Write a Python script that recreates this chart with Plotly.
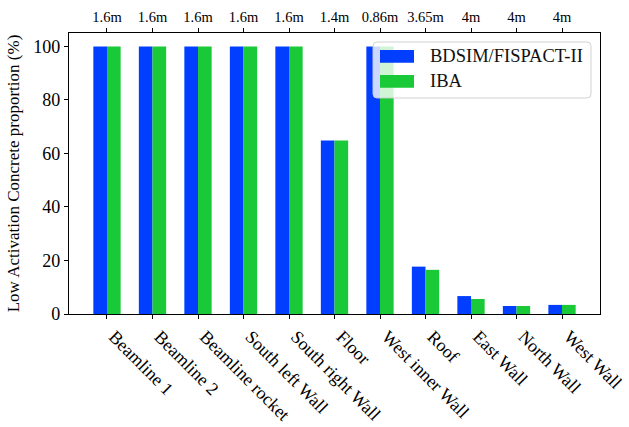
import plotly.graph_objects as go

# Wall / component names along the bottom axis
categories = [
    "Beamline 1", "Beamline 2", "Beamline rocket", "South left Wall",
    "South right Wall", "Floor", "West inner Wall", "Roof",
    "East Wall", "North Wall", "West Wall",
]
# Thickness of each component, shown on the top axis
thickness = ["1.6m", "1.6m", "1.6m", "1.6m", "1.6m", "1.4m", "0.86m",
             "3.65m", "4m", "4m", "4m"]

# Low activation concrete proportion (%) per method
series_names = ["BDSIM/FISPACT-II", "IBA"]
bdsim_fispact = [100, 100, 100, 100, 100, 64.8, 100, 17.7, 6.7, 3.0, 3.4]
iba = [100, 100, 100, 100, 100, 64.8, 100, 16.5, 5.6, 3.0, 3.4]
colors = ["#023eff", "#1ac938"]

FONT = "Liberation Serif, Times New Roman, serif"
idx = list(range(len(categories)))

# plot-area geometry (pixels) used to place the hand-made legend
W, H = 629, 427
ML, MR, MT, MB = 69, 29, 33, 113
PW, PH = W - ML - MR, H - MT - MB


def px(x):
    return (x - ML) / PW


def py(y):
    return (H - MB - y) / PH


fig = go.Figure()
for vals, name, col, off in [(bdsim_fispact, series_names[0], colors[0], -0.3),
                             (iba, series_names[1], colors[1], 0.0)]:
    fig.add_trace(go.Bar(x=idx, y=vals, name=name,
                         marker=dict(color=col, line=dict(width=0)),
                         offset=off, width=0.3, showlegend=False))
# carrier trace so the top (thickness) axis is drawn
fig.add_trace(go.Scatter(x=idx, y=[None] * len(idx), xaxis="x2",
                         showlegend=False, hoverinfo="skip",
                         mode="markers", marker=dict(opacity=0)))

# legend frame with rounded corners, semi-transparent
x0, x1, y0, y1 = px(373), px(591), py(98), py(42)
rx, ry = 4 / PW, 4 / PH
path = (f"M {x0+rx},{y0} L {x1-rx},{y0} Q {x1},{y0} {x1},{y0+ry} "
        f"L {x1},{y1-ry} Q {x1},{y1} {x1-rx},{y1} L {x0+rx},{y1} "
        f"Q {x0},{y1} {x0},{y1-ry} L {x0},{y0+ry} Q {x0},{y0} {x0+rx},{y0} Z")
shapes = [dict(type="path", path=path, xref="paper", yref="paper",
               fillcolor="rgba(255,255,255,0.8)",
               line=dict(color="rgba(204,204,204,0.9)", width=1), layer="above")]
annotations = []
for i, (name, col) in enumerate(zip(series_names, colors)):
    top = 50 + i * 25
    shapes.append(dict(type="rect", xref="paper", yref="paper",
                       x0=px(380), x1=px(414), y0=py(top + 12.7), y1=py(top),
                       fillcolor=col, line=dict(width=0), layer="above"))
    annotations.append(dict(text=name, xref="paper", yref="paper",
                            x=px(428), y=py(top + 6.3), xanchor="left",
                            yanchor="middle", showarrow=False,
                            font=dict(family=FONT, size=18.5, color="#111")))

xr = [-0.835, 10.835]
fig.update_layout(
    width=W, height=H,
    margin=dict(l=ML, r=MR, t=MT, b=MB),
    plot_bgcolor="white", paper_bgcolor="white",
    font=dict(family=FONT, size=17, color="black"),
    barmode="overlay",
    showlegend=False,
    shapes=shapes,
    annotations=annotations,
    xaxis=dict(range=xr, tickmode="array", tickvals=idx, ticktext=categories,
               tickangle=45, ticks="outside", ticklen=4, tickcolor="black",
               showline=True, linecolor="black", linewidth=1.2, mirror=True,
               showgrid=False, zeroline=False, automargin=False,
               ticklabelshift=7,
               tickfont=dict(family=FONT, size=18)),
    xaxis2=dict(range=xr, overlaying="x", side="top", tickmode="array",
                tickvals=idx, ticktext=thickness, ticks="outside", ticklen=4,
                tickcolor="black", showgrid=False, zeroline=False,
                showline=False, automargin=False,
                tickfont=dict(family=FONT, size=14.5)),
    yaxis=dict(range=[0, 105], tickmode="array",
               tickvals=[0, 20, 40, 60, 80, 100], ticks="outside", ticklen=4,
               tickcolor="black", showline=True, linecolor="black",
               linewidth=1.2, mirror=True, showgrid=False, zeroline=False,
               automargin=False, tickfont=dict(family=FONT, size=18),
               title=dict(text="Low Activation Concrete proportion (%)",
                          font=dict(family=FONT, size=17), standoff=9)),
)

fig.write_html("out.html")
